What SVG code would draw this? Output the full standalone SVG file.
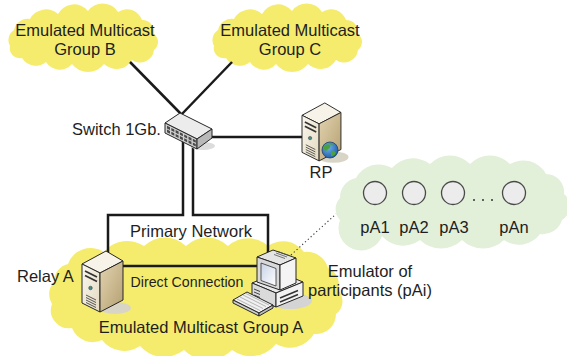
<svg xmlns="http://www.w3.org/2000/svg" width="567" height="356" viewBox="0 0 567 356">
  <style>
    text { font-family: "Liberation Sans", Arial, sans-serif; fill: #1e1e1e; }
    .lbl { font-size: 16.5px; }
    .small { font-size: 14.2px; }
    .cloudY { fill: #f5ec6e; }
    .cloudG { fill: #e2efd9; }
    .wire { fill: none; stroke: #1a1a1a; stroke-width: 2.5; stroke-linejoin: miter; }
    .dotted { fill: none; stroke: #333; stroke-width: 1.1; stroke-dasharray: 1.2 2.6; }
    .ol { stroke: #262626; stroke-width: 1; stroke-linejoin: round; }
    .peer { fill: #ececec; stroke: #4a4a4a; stroke-width: 1.3; }
  </style>
  <defs>
    <linearGradient id="srvFront" x1="0" y1="0" x2="1" y2="1">
      <stop offset="0" stop-color="#faf7ee"/>
      <stop offset="1" stop-color="#e4dac0"/>
    </linearGradient>
    <linearGradient id="srvSide" x1="0" y1="0" x2="1" y2="1">
      <stop offset="0" stop-color="#e2d4b0"/>
      <stop offset="1" stop-color="#b59f72"/>
    </linearGradient>
    <linearGradient id="screen" x1="0" y1="0" x2="1" y2="1">
      <stop offset="0" stop-color="#c9d3e6"/>
      <stop offset="1" stop-color="#ffffff"/>
    </linearGradient>
    <radialGradient id="globe" cx="0.4" cy="0.35" r="0.7">
      <stop offset="0" stop-color="#6fb0ea"/>
      <stop offset="1" stop-color="#1d5aa6"/>
    </radialGradient>
    <!-- tower server, drawn at its own origin -->
    <g id="server">
      <ellipse cx="33" cy="58" rx="16" ry="6" fill="#d9d5c6"/>
      <polygon class="ol" points="0,14 24,1 41,11 18,23" fill="#f7f3e8"/>
      <polygon class="ol" points="0,14 18,23 18,62 0,53" fill="url(#srvFront)"/>
      <polygon class="ol" points="18,23 41,11 41,50 18,62" fill="url(#srvSide)"/>
      <path d="M3,21 L15,27 M3,25.5 L15,31.5" stroke="#333" stroke-width="1.8"/>
      <circle cx="8.5" cy="38" r="1.8" fill="#3f8f8c" stroke="#333" stroke-width="0.5"/>
      <path d="M4,45 L14,50 M4,47.5 L14,52.5 M4,50 L14,55 M4,52.5 L14,57.5" stroke="#444" stroke-width="0.9"/>
    </g>
  </defs>

  <!-- clouds -->
  <path id="cloudB" class="cloudY" d="M10,46 A12,12 0 0 1 14,30 A14,14 0 0 1 30,19 A18,18 0 0 1 58,14 A18,18 0 0 1 88,11 A18,18 0 0 1 118,12 A16,16 0 0 1 142,20 A12,12 0 0 1 154,34 A10,10 0 0 1 154,50 A14,14 0 0 1 132,60 A18,18 0 0 1 104,64 A20,20 0 0 1 72,64 A16,16 0 0 1 46,62 A16,16 0 0 1 22,58 A10,10 0 0 1 10,46 Z"/>
  <path id="cloudC" class="cloudY" d="M214,46 A12,12 0 0 1 218,30 A14,14 0 0 1 234,19 A18,18 0 0 1 262,14 A18,18 0 0 1 292,11 A18,18 0 0 1 322,12 A16,16 0 0 1 346,20 A12,12 0 0 1 358,34 A10,10 0 0 1 358,50 A14,14 0 0 1 336,60 A18,18 0 0 1 308,64 A20,20 0 0 1 276,64 A16,16 0 0 1 250,62 A16,16 0 0 1 226,58 A10,10 0 0 1 214,46 Z"/>
  <path id="cloudA" class="cloudY" d="M52,304 A18,18 0 0 1 54,282 A18,18 0 0 1 68,264 A24,24 0 0 1 104,252 A30,30 0 0 1 144,246 A30,30 0 0 1 186,246 A30,30 0 0 1 228,246 A30,30 0 0 1 268,246 A26,26 0 0 1 304,252 A22,22 0 0 1 328,268 A18,18 0 0 1 338,290 A16,16 0 0 1 336,314 A20,20 0 0 1 314,334 A28,28 0 0 1 276,344 A32,32 0 0 1 232,350 A34,34 0 0 1 184,350 A32,32 0 0 1 140,346 A28,28 0 0 1 102,340 A22,22 0 0 1 72,328 A18,18 0 0 1 52,304 Z"/>
  <path id="cloudP" class="cloudG" d="M340,220 A16,16 0 0 1 340,198 A20,20 0 0 1 356,178 A26,26 0 0 1 392,168 A28,28 0 0 1 430,164 A28,28 0 0 1 470,164 A28,28 0 0 1 510,164 A26,26 0 0 1 546,174 A18,18 0 0 1 564,194 A16,16 0 0 1 562,220 A20,20 0 0 1 540,234 A26,26 0 0 1 504,240 A30,30 0 0 1 462,240 A30,30 0 0 1 420,240 A28,28 0 0 1 382,236 A22,22 0 0 1 340,220 Z"/>

  <!-- connectors -->
  <g id="connectors">
    <line class="wire" x1="130" y1="62" x2="182" y2="115"/>
    <line class="wire" x1="232" y1="62" x2="181" y2="115"/>
    <line class="wire" x1="205" y1="137" x2="303" y2="137"/>
    <polyline class="wire" points="183,140 183,215 108,215 108,253"/>
    <polyline class="wire" points="193,140 193,215 268,215 268,255"/>
    <line class="wire" x1="120" y1="266" x2="260" y2="266"/>
    <line class="dotted" x1="291" y1="255" x2="336" y2="214"/>
  </g>

  <!-- group labels -->
  <g id="groupB">
    <text class="lbl" x="85" y="36" text-anchor="middle">Emulated Multicast</text>
    <text class="lbl" x="85" y="55" text-anchor="middle">Group B</text>
  </g>
  <g id="groupC">
    <text class="lbl" x="290" y="36" text-anchor="middle">Emulated Multicast</text>
    <text class="lbl" x="290" y="55" text-anchor="middle">Group C</text>
  </g>
  <g id="groupA">
    <text class="lbl" x="201" y="333" text-anchor="middle">Emulated Multicast Group A</text>
  </g>

  <!-- switch -->
  <g id="switch">
    <ellipse cx="203" cy="146" rx="12" ry="4" fill="#dcdcdc"/>
    <polygon class="ol" points="165,123 180,113 212,129 197,139" fill="#ececec"/>
    <polygon class="ol" points="165,123 197,139 197,149 165,133" fill="#d2d2d2"/>
    <polygon class="ol" points="197,139 212,129 212,138 197,149" fill="#b8b8b8"/>
    <g transform="matrix(1,0.5,0,1,165,123)" fill="#4a4a4a">
      <rect x="2" y="1.8" width="3" height="2.6"/>
      <rect x="6.3" y="1.8" width="3" height="2.6"/>
      <rect x="10.6" y="1.8" width="3" height="2.6"/>
      <rect x="14.9" y="1.8" width="3" height="2.6"/>
      <rect x="19.2" y="1.8" width="3" height="2.6"/>
      <rect x="23.5" y="1.8" width="3" height="2.6"/>
      <rect x="27.8" y="1.8" width="3" height="2.6"/>
      <rect x="2" y="5.6" width="3" height="2.6"/>
      <rect x="6.3" y="5.6" width="3" height="2.6"/>
      <rect x="10.6" y="5.6" width="3" height="2.6"/>
      <rect x="14.9" y="5.6" width="3" height="2.6"/>
      <rect x="19.2" y="5.6" width="3" height="2.6"/>
      <rect x="23.5" y="5.6" width="3" height="2.6"/>
      <rect x="27.8" y="5.6" width="3" height="2.6"/>
    </g>
    <text class="lbl" x="72" y="135">Switch 1Gb.</text>
  </g>

  <!-- rendezvous point server -->
  <g id="rp">
    <use href="#server" transform="translate(302,102) scale(0.95)"/>
    <circle cx="330" cy="150" r="8" fill="url(#globe)" stroke="#1f3f66" stroke-width="0.8"/>
    <path d="M324,146 q3,-3 6,-1 q1,3 -2,4 q-1,3 -4,1 z M331,151 q4,-1 5,2 q-2,4 -5,3 z M329,143 q3,-1 5,1 l-3,1 z" fill="#4aa23a"/>
    <text class="lbl" x="321" y="178" text-anchor="middle">RP</text>
  </g>

  <!-- relay server -->
  <g id="relayA">
    <use href="#server" transform="translate(82,250)"/>
    <text class="lbl" x="17" y="282">Relay A</text>
  </g>

  <!-- emulator workstation -->
  <g id="emulator">
    <ellipse cx="290" cy="301" rx="22" ry="8" fill="#d4d4d4"/>
    <!-- base unit -->
    <polygon class="ol" points="252,283 279,272 303,282 276,293" fill="#e9e9e9"/>
    <polygon class="ol" points="252,283 276,293 276,307 252,297" fill="#dadada"/>
    <polygon class="ol" points="276,293 303,282 303,296 276,307" fill="#f2f2f2"/>
    <path d="M254,289 L260,291.5 M254,292 L260,294.5 M254,295 L260,297.5" stroke="#333" stroke-width="0.9"/>
    <path d="M280,298 L298,290.5 M280,302 L298,294.5" stroke="#333" stroke-width="1.4"/>
    <!-- monitor -->
    <polygon class="ol" points="257,257 273,250 296,258 280,265" fill="#e4e4e4"/>
    <polygon class="ol" points="257,257 280,265 280,290 257,282" fill="#d8d8d8"/>
    <polygon class="ol" points="280,265 296,258 296,283 280,290" fill="#f4f4f4"/>
    <polygon points="261,263 276,268.5 276,286 261,280.5" fill="url(#screen)" stroke="#333" stroke-width="0.8"/>
    <path d="M276,253 L287,257 M274,254.5 L285,258.5 M278,251.5 L289,255.5" stroke="#555" stroke-width="0.8"/>
    <!-- keyboard -->
    <polygon class="ol" points="233,300 247,292 273,305 259,313" fill="#f1f1f1"/>
    <polygon class="ol" points="233,300 259,313 259,316 233,303" fill="#cfcfcf"/>
    <polygon class="ol" points="259,313 273,305 273,308 259,316" fill="#bdbdbd"/>
    <path d="M237,299 L260,310.5 M240,297 L263,308.5 M243,295 L266,306.5 M246,293.5 L269,305" stroke="#9a9a9a" stroke-width="0.7"/>
    <text class="lbl" x="370" y="277" text-anchor="middle">Emulator of</text>
    <text class="lbl" x="370" y="296" text-anchor="middle">participants (pAi)</text>
  </g>

  <!-- emulated participants -->
  <g id="participants">
    <circle class="peer" cx="375" cy="193" r="11.5"/>
    <circle class="peer" cx="414" cy="193" r="11.5"/>
    <circle class="peer" cx="453" cy="193" r="11.5"/>
    <circle class="peer" cx="514" cy="193" r="11.5"/>
    <g fill="#333">
      <circle cx="474" cy="200" r="1"/>
      <circle cx="483" cy="200" r="1"/>
      <circle cx="492" cy="200" r="1"/>
    </g>
    <text class="lbl" x="375" y="233" text-anchor="middle">pA1</text>
    <text class="lbl" x="414" y="233" text-anchor="middle">pA2</text>
    <text class="lbl" x="454" y="233" text-anchor="middle">pA3</text>
    <text class="lbl" x="514" y="233" text-anchor="middle">pAn</text>
  </g>

  <!-- network labels -->
  <text class="lbl" x="191" y="237" text-anchor="middle">Primary Network</text>
  <text class="small" x="187" y="287" text-anchor="middle">Direct Connection</text>
</svg>
